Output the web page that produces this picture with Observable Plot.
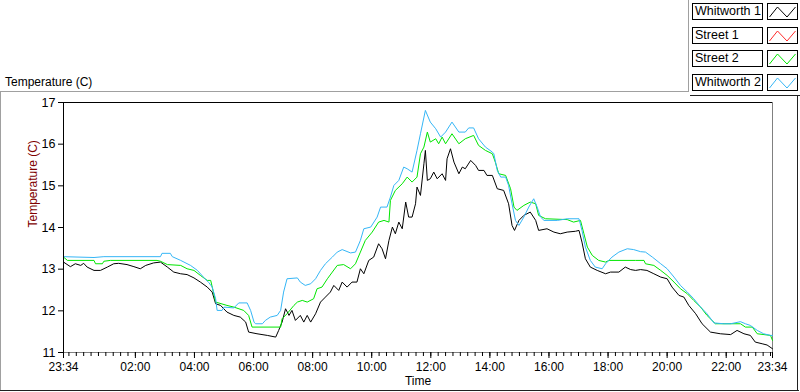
<!DOCTYPE html>
<html>
<head>
<meta charset="utf-8">
<script src="https://cdn.jsdelivr.net/npm/d3@7"></script>
<script src="https://cdn.jsdelivr.net/npm/@observablehq/plot@0.6"></script>
<style>
  html, body { margin: 0; padding: 0; background: #fff; }
  #wrap { position: relative; width: 800px; height: 392px; font-family: "Liberation Sans", Arial, sans-serif; font-size: 12px; overflow: hidden; }
  #wrap svg.plot { position: absolute; left: 0; top: 0; }
  .ln { position: absolute; }
  .lgbox { position: absolute; box-sizing: border-box; border: 1px solid #000; background: #fff; height: 17px; }
  .lgtext { left: 692px; width: 71px; padding-left: 2px; line-height: 15px; white-space: nowrap; font-size: 12.5px; }
  .lgsw { left: 767px; width: 31px; }
  #charttitle { position: absolute; left: 5px; top: 75px; font-size: 12px; }
</style>
</head>
<body>
<div id="wrap"></div>
<script>
// ---------- data ----------
const seriesNames = ["Whitworth 1", "Street 1", "Street 2", "Whitworth 2"];
const seriesColors = ["#000000", "#ff2a2a", "#00e600", "#35b6f6"];

// time: minutes after the 23:34 start; value: temperature (C)
const w1Minutes = [0,14,24,35,41,48,62,75,89,102,112,129,143,156,167,183,197,211,224,238,251,265,278,292,302,309,319,332,346,359,370,376,393,414,431,437,444,451,458,464,471,481,488,495,502,512,522,532,542,549,559,566,576,586,596,603,610,620,630,640,647,654,661,668,674,681,688,695,701,708,715,718,725,732,735,739,745,752,759,769,776,779,786,793,803,810,816,827,837,843,854,860,871,881,894,904,911,916,925,935,948,959,965,982,996,1009,1023,1040,1047,1053,1060,1070,1084,1101,1111,1128,1141,1152,1162,1172,1185,1199,1213,1226,1236,1250,1260,1270,1284,1297,1314,1334,1355,1368,1382,1395,1405,1419,1429,1440];
const w1Temps   = [13.17,13.06,13.13,13.09,13.14,13.05,12.97,12.97,13.05,13.13,13.14,13.11,13.06,13.01,13.09,13.15,13.17,13.05,12.93,12.89,12.87,12.79,12.69,12.57,12.45,12.17,12.13,11.97,11.89,11.85,11.73,11.49,11.45,11.41,11.37,11.53,11.73,12.05,11.89,12.01,11.77,11.89,11.73,11.89,11.73,11.93,12.21,12.33,12.45,12.61,12.49,12.69,12.57,12.69,12.69,13.01,12.89,13.21,13.29,13.61,13.49,13.25,13.69,14.01,13.85,14.13,13.97,14.61,14.25,14.25,14.57,14.97,14.77,15.53,15.85,15.13,15.17,15.33,15.17,15.29,15.13,15.65,15.89,15.57,15.29,15.45,15.41,15.61,15.49,15.37,15.37,15.25,15.25,14.93,14.89,14.57,14.05,13.93,14.17,14.29,14.37,14.17,13.93,13.97,13.89,13.85,13.89,13.91,13.93,13.65,13.25,13.05,12.97,12.89,12.93,12.93,13.05,12.99,12.97,12.99,12.97,12.89,12.81,12.77,12.57,12.37,12.33,12.13,11.93,11.69,11.49,11.45,11.43,11.53,11.45,11.41,11.25,11.21,11.18,11.09];

const s1Minutes = [];
const s1Temps   = [];

const s2Minutes = [0,8,62,65,79,82,95,190,197,211,238,251,265,278,292,299,309,332,346,366,376,383,441,444,454,468,475,485,495,508,515,525,536,546,556,569,583,593,603,613,627,640,651,661,664,674,688,698,708,718,725,732,739,745,756,762,769,776,789,803,816,833,843,857,871,877,884,898,908,915,921,935,948,959,965,979,1023,1036,1050,1057,1064,1074,1087,1101,1108,1162,1179,1182,1199,1213,1226,1240,1253,1267,1280,1294,1307,1324,1375,1385,1399,1409,1436,1440];
const s2Temps   = [13.29,13.21,13.21,13.13,13.13,13.19,13.21,13.21,13.19,13.11,13.09,13.01,12.97,12.85,12.73,12.73,12.21,12.13,12.09,12.01,11.89,11.61,11.61,11.81,11.93,12.13,12.21,12.25,12.21,12.29,12.53,12.57,12.77,12.93,13.09,13.11,13.01,13.13,13.41,13.69,13.89,14.13,14.17,14.13,14.65,14.89,15.05,15.21,15.09,15.21,15.77,15.93,16.29,16.05,16.13,16.01,16.17,16.01,16.25,16.01,16.13,16.21,15.97,15.85,15.77,15.57,15.29,15.25,14.93,14.49,14.41,14.53,14.61,14.57,14.29,14.21,14.19,14.13,14.17,13.85,13.53,13.33,13.21,13.17,13.21,13.21,13.21,13.13,13.09,12.97,12.85,12.69,12.53,12.41,12.25,12.09,11.89,11.69,11.69,11.61,11.61,11.45,11.41,11.29];

const w2Minutes = [0,62,82,197,200,217,221,238,258,272,285,295,302,309,312,322,326,346,356,373,380,387,390,404,410,420,434,441,447,454,475,481,491,502,512,522,532,546,556,566,583,593,603,610,624,637,644,657,664,671,681,691,698,708,718,725,735,745,756,766,776,789,803,816,823,833,843,857,871,874,881,888,898,904,911,918,925,935,945,955,962,969,976,1003,1023,1047,1053,1060,1070,1080,1094,1101,1114,1128,1145,1158,1172,1182,1196,1213,1226,1240,1253,1267,1280,1294,1307,1321,1341,1355,1375,1385,1395,1409,1422,1436,1440];
const w2Temps   = [13.30,13.28,13.30,13.30,13.38,13.38,13.30,13.21,13.09,12.97,12.80,12.68,12.57,12.29,12.01,12.01,12.09,12.07,12.19,12.19,12.01,11.73,11.69,11.69,11.77,11.85,11.89,12.01,12.45,12.77,12.79,12.69,12.61,12.65,12.77,12.97,13.13,13.29,13.41,13.47,13.39,13.41,13.69,13.97,14.01,14.25,14.49,14.49,14.73,15.01,15.13,15.45,15.41,15.33,15.85,16.25,16.81,16.53,16.37,16.17,16.29,16.53,16.29,16.29,16.39,16.39,16.13,15.93,15.81,15.77,15.37,15.21,15.21,15.01,14.57,14.17,14.05,14.25,14.49,14.69,14.49,14.25,14.17,14.17,14.21,14.21,13.93,13.53,13.21,13.05,13.01,13.13,13.29,13.41,13.49,13.47,13.42,13.41,13.29,13.13,13.01,12.81,12.61,12.45,12.29,12.09,11.93,11.71,11.69,11.69,11.74,11.69,11.65,11.53,11.45,11.41,11.41];

const yTicks = [11, 12, 13, 14, 15, 16, 17];
const xTickLabels = ["23:34","02:00","04:00","06:00","08:00","10:00","12:00","14:00","16:00","18:00","20:00","22:00","23:34"];
const yTitle = "Temperature (C)";
const xTitle = "Time";
const chartLabel = "Temperature (C)";

// ---------- build ----------
const START = Date.UTC(2024, 0, 1, 23, 34);
const toDate = m => new Date(START + m * 60000);
const END = toDate(1440);

const minutesArr = [w1Minutes, s1Minutes, s2Minutes, w2Minutes];
const tempsArr = [w1Temps, s1Temps, s2Temps, w2Temps];
const rows = [];
seriesNames.forEach((name, i) => {
  minutesArr[i].forEach((m, j) => rows.push({series: name, time: toDate(m), temp: tempsArr[i][j]}));
});

const majorTicks = xTickLabels.map((s, i) => {
  const [h, mm] = s.split(":").map(Number);
  let off = (h * 60 + mm) - (23 * 60 + 34);
  if (off < 0) off += 1440;
  if (i === xTickLabels.length - 1) off = 1440;
  return toDate(off);
});
const minorTicks = d3.utcMinute.every(15).range(toDate(1), END);

const fmt = d3.utcFormat("%H:%M");

const chart = Plot.plot({
  width: 800,
  height: 392,
  marginLeft: 63,
  marginRight: 28,
  marginTop: 102,
  marginBottom: 40,
  style: {fontFamily: "Liberation Sans, Arial, sans-serif", fontSize: "12px", background: "transparent", color: "#000", overflow: "visible"},
  x: {type: "utc", domain: [toDate(0), END]},
  y: {domain: [11, 17]},
  color: {domain: seriesNames, range: seriesColors},
  marks: [
    Plot.ruleY([17], {stroke: "#000"}),
    Plot.ruleY([11], {stroke: "#808080"}),
    Plot.ruleX([END], {stroke: "#808080"}),
    Plot.lineY(rows, {x: "time", y: "temp", z: "series", stroke: "series", strokeWidth: 1, curve: "linear"}),
    Plot.ruleX([toDate(0)], {stroke: "#000"}),
    Plot.axisY({ticks: yTicks, tickFormat: d => String(d), tickSize: 5, tickPadding: 3, label: null, fontSize: 12.5}),
    Plot.axisX({ticks: minorTicks, tickFormat: () => "", tickSize: 4, label: null}),
    Plot.axisX({ticks: majorTicks, tickFormat: fmt, tickSize: 6, tickPadding: 4, label: null, fontSize: 12}),
    Plot.text([yTitle], {frameAnchor: "left", rotate: -90, dx: -30, fill: "#800000", fontSize: 12}),
    Plot.text([xTitle], {frameAnchor: "bottom", dy: 32, fill: "#000", fontSize: 12})
  ]
});
chart.classList.add("plot");

const wrap = document.getElementById("wrap");
wrap.appendChild(chart);

function line(x, y, w, h, c) {
  const d = document.createElement("div");
  d.className = "ln";
  Object.assign(d.style, {left: x + "px", top: y + "px", width: w + "px", height: h + "px", background: c});
  wrap.appendChild(d);
}
// outer frame
line(0, 91, 688, 1, "#a0a0a0");
line(0, 91, 1, 300, "#a0a0a0");
line(0, 390, 799, 1, "#202020");
line(797, 95, 1, 296, "#202020");
// legend panel edges
line(688, 0, 1, 92, "#a0a0a0");
line(690, 95, 110, 1, "#202020");

const title = document.createElement("div");
title.id = "charttitle";
title.textContent = chartLabel;
wrap.appendChild(title);

const tops = [3, 27, 50, 74];
seriesNames.forEach((name, i) => {
  const t = document.createElement("div");
  t.className = "lgbox lgtext";
  t.style.top = tops[i] + "px";
  t.textContent = name;
  wrap.appendChild(t);
  const s = document.createElement("div");
  s.className = "lgbox lgsw";
  s.style.top = tops[i] + "px";
  s.innerHTML = `<svg width="29" height="15" style="display:block"><polyline points="1.5,13 9.5,3 19,13 27.5,3" fill="none" stroke="${seriesColors[i]}" stroke-width="1"/></svg>`;
  wrap.appendChild(s);
});
</script>
</body>
</html>
